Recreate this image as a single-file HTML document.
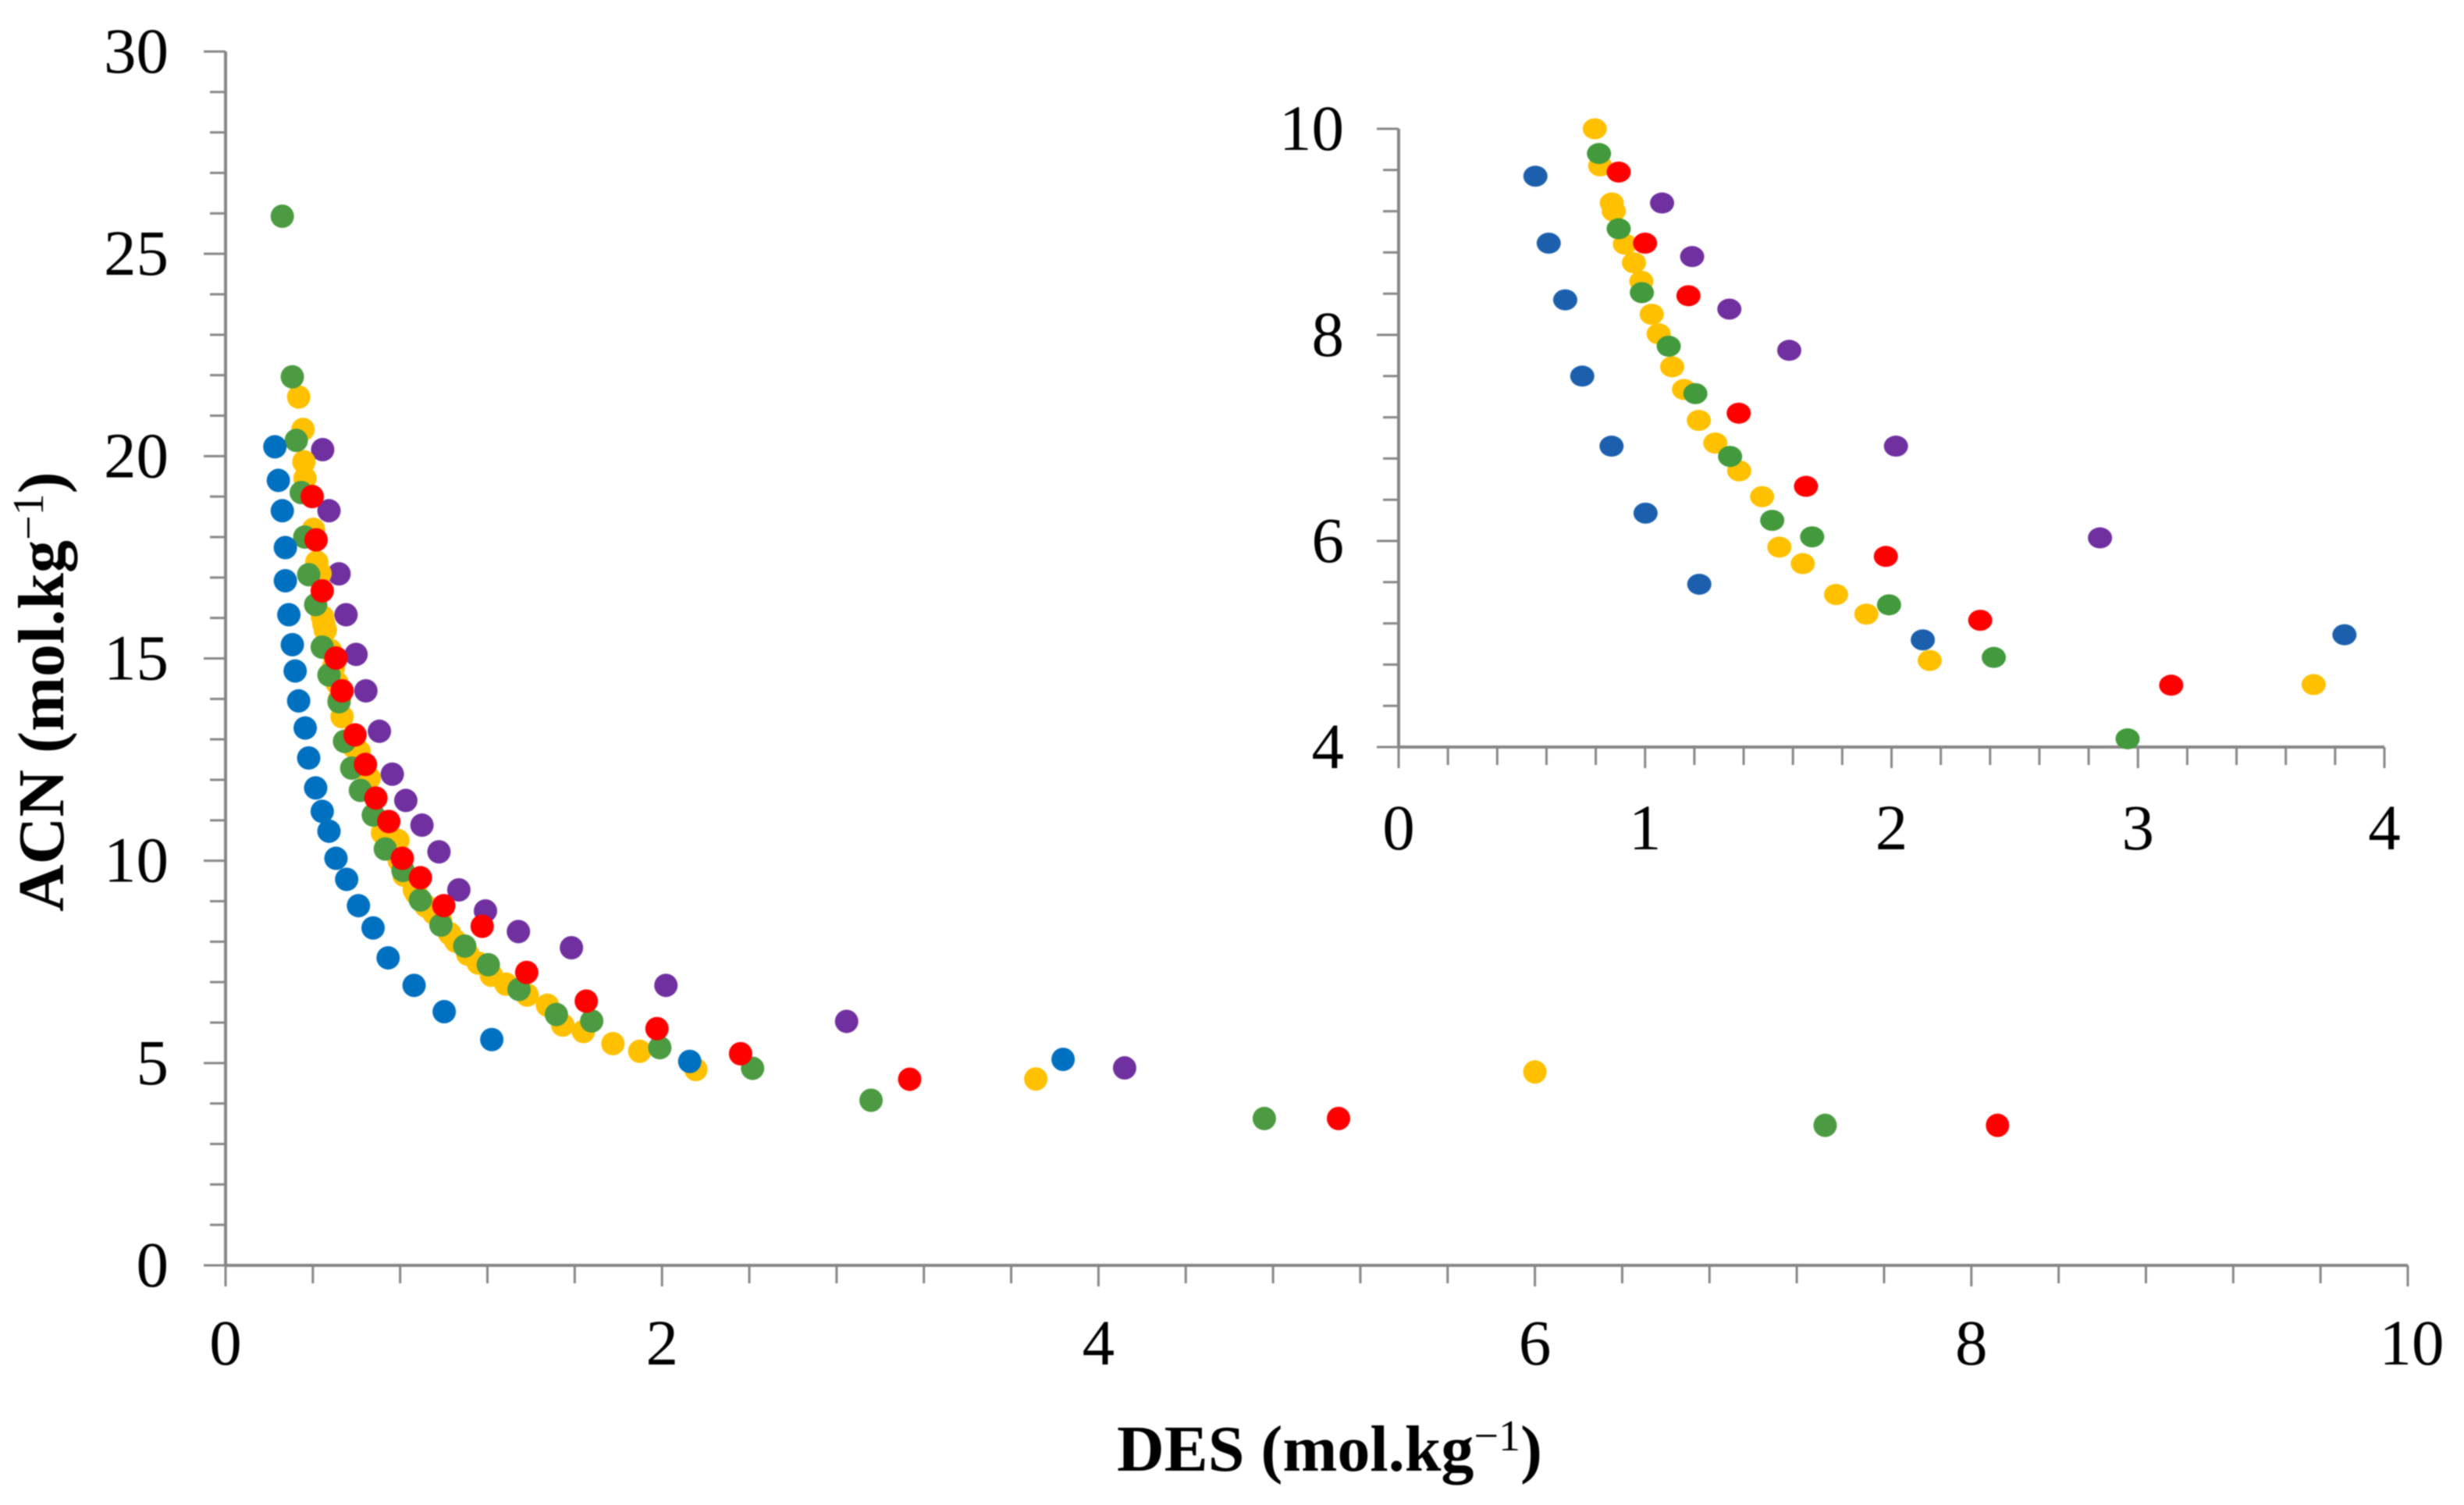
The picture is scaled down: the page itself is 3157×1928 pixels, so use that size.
<!DOCTYPE html>
<html lang="en">
<head>
<meta charset="utf-8">
<title>ACN vs DES scatter chart</title>
<style>
html,body{margin:0;padding:0;background:#fff;}
svg{display:block;width:3157px;height:1928px;filter:blur(.7px);}
text{font-family:"Liberation Serif","Times New Roman",serif;fill:#000;}
</style>
</head>
<body>
<svg id="chart" xmlns="http://www.w3.org/2000/svg" width="3157" height="1928" viewBox="0 0 3157 1928">
  <rect x="0" y="0" width="3157" height="1928" fill="#ffffff"/>
  <text x="1431" y="1884" font-size="84" font-weight="bold">DES (mol.kg<tspan font-size="56" font-weight="normal" dy="-26">−1</tspan><tspan dy="26">)</tspan></text>
  <text transform="translate(81 1168) rotate(-90)" font-size="84" font-weight="bold">ACN (mol.kg<tspan font-size="56" font-weight="normal" dy="-26">−1</tspan><tspan dy="26">)</tspan></text>
</svg>
<script>
// Series values (DES, ACN in mol/kg)
const purpleX = [0.445,0.474,0.52,0.552,0.598,0.643,0.705,0.764,0.826,0.9,0.978,1.069,1.191,1.342,1.585,2.018,2.846,4.12];
const purpleY = [20.16,18.65,17.09,16.08,15.1,14.2,13.2,12.14,11.49,10.88,10.22,9.28,8.76,8.25,7.85,6.92,6.03,4.88];
const yellowX = [0.335,0.355,0.359,0.364,0.403,0.418,0.433,0.444,0.45,0.457,0.48,0.495,0.51,0.522,0.534,0.586,0.612,0.658,0.719,0.75,0.79,0.796,0.818,0.865,0.873,0.918,0.955,0.985,1.027,1.055,1.11,1.158,1.218,1.285,1.382,1.475,1.545,1.64,1.775,1.898,2.155,3.713,6.0];
const yellowY = [21.46,20.66,19.86,19.45,18.19,17.38,17.1,16.03,15.86,15.7,15.2,14.79,14.4,14.0,13.56,12.82,12.7,12.04,10.69,10.44,10.5,10.0,9.64,9.28,9.2,8.88,8.7,8.52,8.2,8.01,7.69,7.47,7.17,6.95,6.68,6.43,5.94,5.78,5.48,5.29,4.84,4.606,4.78];
const greenX = [0.26,0.306,0.324,0.347,0.363,0.381,0.413,0.443,0.474,0.52,0.545,0.578,0.618,0.677,0.732,0.813,0.893,0.987,1.096,1.204,1.345,1.516,1.678,1.99,2.415,2.958,4.76,7.33];
const greenY = [25.93,21.96,20.39,19.1,18.0,17.07,16.33,15.28,14.59,13.93,12.95,12.29,11.74,11.13,10.29,9.76,9.03,8.41,7.89,7.43,6.82,6.2,6.04,5.38,4.87,4.08,3.63,3.46];
const redX = [0.397,0.415,0.443,0.506,0.534,0.593,0.641,0.689,0.748,0.81,0.893,1.0,1.176,1.38,1.653,1.977,2.36,3.135,5.1,8.12];
const redY = [19.0,17.93,16.67,15.01,14.2,13.11,12.38,11.55,10.97,10.06,9.58,8.89,8.38,7.24,6.53,5.85,5.23,4.6,3.63,3.46];
const blueX = [0.226,0.242,0.26,0.274,0.274,0.29,0.306,0.319,0.335,0.365,0.381,0.413,0.443,0.474,0.506,0.555,0.609,0.676,0.745,0.864,1.002,1.22,2.127,3.838];
const blueY = [20.23,19.4,18.65,17.74,16.92,16.08,15.34,14.69,13.95,13.28,12.54,11.8,11.22,10.73,10.06,9.54,8.89,8.34,7.6,6.92,6.27,5.58,5.04,5.09];

// Tick labels
const mainXTicks = ["0","2","4","6","8","10"];
const mainYTicks = ["0","5","10","15","20","25","30"];
const insetXTicks = ["0","1","2","3","4"];
const insetYTicks = ["4","6","8","10"];

const NS = 'http://www.w3.org/2000/svg';
const svg = document.getElementById('chart');
const AXIS_COLOR = '#868686';

function make(tag, attrs, parent){
  const el = document.createElementNS(NS, tag);
  for (const k in attrs) el.setAttribute(k, attrs[k]);
  parent.appendChild(el);
  return el;
}

function drawPanel(p){
  const g = make('g', {}, svg);
  
  
  const sx = v => p.left + (v - p.xMin) / (p.xMax - p.xMin) * (p.right - p.left);
  const sy = v => p.bottom - (v - p.yMin) / (p.yMax - p.yMin) * (p.bottom - p.top);

  // minor + major x ticks
  const xStep = (p.xTicks[1] - p.xTicks[0]) / p.xSub;
  for (let i = 0; i <= (p.xTicks.length - 1) * p.xSub; i++) {
    const v = +p.xTicks[0] + i * xStep;
    const major = i % p.xSub === 0;
    const t = make('line', {x1:sx(v), x2:sx(v), y1:p.bottom, y2:p.bottom + (major ? 27 : 23), stroke:AXIS_COLOR, 'stroke-width':3}, g);
    
    
  }
  // minor + major y ticks
  const yStep = (p.yTicks[1] - p.yTicks[0]) / p.ySub;
  for (let i = 0; i <= (p.yTicks.length - 1) * p.ySub; i++) {
    const v = +p.yTicks[0] + i * yStep;
    const major = i % p.ySub === 0;
    const t = make('line', {x1:p.left - (major ? 28 : 20), x2:p.left, y1:sy(v), y2:sy(v), stroke:AXIS_COLOR, 'stroke-width':3}, g);
    
    
  }
  // axis lines
  const xa = make('line', {x1:p.left, x2:p.right, y1:p.bottom, y2:p.bottom, stroke:AXIS_COLOR, 'stroke-width':4}, g);
  
  
  const ya = make('line', {x1:p.left, x2:p.left, y1:p.top, y2:p.bottom, stroke:AXIS_COLOR, 'stroke-width':4}, g);
  
  

  // tick labels
  p.xTicks.forEach(label => {
    const t = make('text', {x:sx(+label) + (label.length > 1 ? 5 : 0), y:p.xLabelY, 'font-size':p.fontSize, 'text-anchor':'middle'}, g);
    t.textContent = label;
    
    
  });
  p.yTicks.forEach(label => {
    const t = make('text', {x:p.yLabelX, y:sy(+label) + 27, 'font-size':p.fontSize, 'text-anchor':'end'}, g);
    t.textContent = label;
    
    
  });

  // series, back to front
  p.series.forEach(s => {
    const sg = make('g', {fill:s.color}, g);
    
    
    s.x.forEach((xv, i) => {
      const yv = s.y[i];
      if (xv < p.xMin || xv > p.xMax || yv < p.yMin || yv > p.yMax) return;
      const c = make('ellipse', {cx:sx(xv), cy:sy(yv), rx:p.rx, ry:p.ry}, sg);
      
      
    });
  });
}

drawPanel({
  name:'main', left:289, right:3085, top:66, bottom:1621,
  xMin:0, xMax:10, yMin:0, yMax:30,
  xTicks:mainXTicks, yTicks:mainYTicks, xSub:5, ySub:5,
  xLabelY:1748, yLabelX:216, fontSize:83, rx:15, ry:15,
  series:[
    {key:'purple', x:purpleX, y:purpleY, color:'#7030a0'},
    {key:'yellow', x:yellowX, y:yellowY, color:'#ffc000'},
    {key:'green',  x:greenX,  y:greenY,  color:'#4c9b42'},
    {key:'red',    x:redX,    y:redY,    color:'#ff0000'},
    {key:'blue',   x:blueX,   y:blueY,   color:'#0070c0'}
  ]
});

drawPanel({
  name:'inset', left:1792, right:3055, top:165, bottom:957,
  xMin:0, xMax:4, yMin:4, yMax:10,
  xTicks:insetXTicks, yTicks:insetYTicks, xSub:5, ySub:5,
  xLabelY:1088, yLabelX:1722, fontSize:83, rx:15.5, ry:13.5,
  series:[
    {key:'purple', x:purpleX, y:purpleY, color:'#7030a0'},
    {key:'yellow', x:yellowX, y:yellowY, color:'#ffc000'},
    {key:'green',  x:greenX,  y:greenY,  color:'#429a3c'},
    {key:'red',    x:redX,    y:redY,    color:'#ff0000'},
    {key:'blue',   x:blueX,   y:blueY,   color:'#1c60ad'}
  ]
});
</script>
</body>
</html>
